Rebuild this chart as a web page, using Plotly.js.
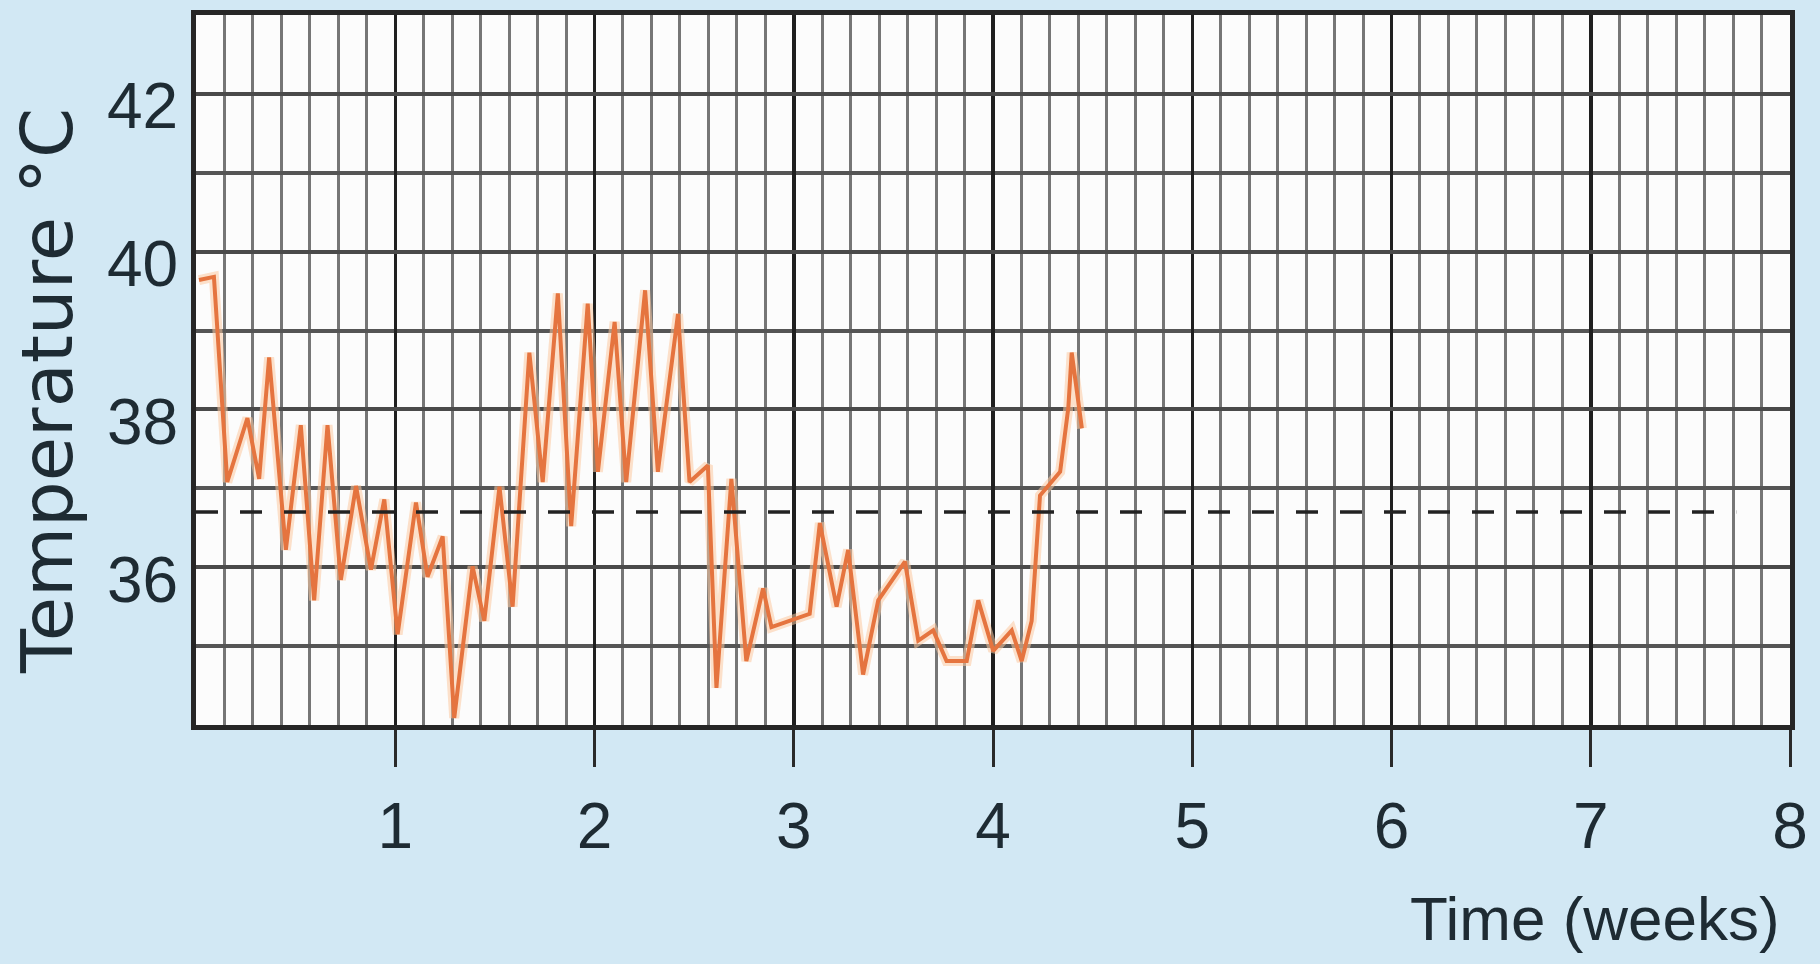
<!DOCTYPE html>
<html>
<head>
<meta charset="utf-8">
<script src="https://cdn.plot.ly/plotly-3.0.1.min.js"></script>
<style>
  html, body { margin: 0; padding: 0; background: #d2e8f4; }
  #chart { width: 1820px; height: 964px; }
</style>
</head>
<body>
<div id="chart"></div>
<script>
// Time in weeks (twice-daily readings) and body temperature in °C
const timeWeeks = [
  0.015, 0.090, 0.157, 0.258, 0.317, 0.367, 0.451, 0.526, 0.593, 0.660,
  0.727, 0.803, 0.878, 0.945, 1.012, 1.104, 1.162, 1.238, 1.296, 1.388,
  1.447, 1.523, 1.589, 1.673, 1.740, 1.816, 1.883, 1.966, 2.017, 2.101,
  2.159, 2.254, 2.318, 2.419, 2.477, 2.569, 2.612, 2.687, 2.762, 2.846,
  2.888, 3.005, 3.080, 3.131, 3.215, 3.273, 3.348, 3.424, 3.558, 3.625,
  3.700, 3.767, 3.868, 3.926, 4.001, 4.094, 4.144, 4.194, 4.228, 4.236,
  4.337, 4.378, 4.395, 4.446
];
const temperature = [
  39.64, 39.68, 37.08, 37.89, 37.12, 38.66, 36.22, 37.80, 35.58, 37.80,
  35.84, 37.03, 35.97, 36.86, 35.15, 36.82, 35.88, 36.39, 34.09, 36.01,
  35.32, 37.02, 35.50, 38.72, 37.08, 39.47, 36.52, 39.34, 37.21, 39.11,
  37.08, 39.51, 37.21, 39.21, 37.08, 37.29, 34.47, 37.12, 34.81, 35.73,
  35.24, 35.35, 35.41, 36.56, 35.50, 36.22, 34.64, 35.58, 36.07, 35.07,
  35.20, 34.81, 34.81, 35.58, 34.94, 35.20, 34.81, 35.32, 36.74, 36.91,
  37.21, 38.02, 38.72, 37.76
];
// Normal temperature reference (dashed line)
const normalX = [0, 7.73];
const normalY = [36.7, 36.7];

// Tick labels
const xTickVals = [1, 2, 3, 4, 5, 6, 7, 8];
const xTickText = ['1', '2', '3', '4', '5', '6', '7', '8'];
const yTickVals = [36, 38, 40, 42];
const yTickText = ['36', '38', '40', '42'];

const xTitle = 'Time (weeks)';
const yTitle = 'Temperature °C';

const tickFont = { family: 'Liberation Sans, Arial, sans-serif', size: 64, color: '#1e2b33' };

const traces = [
  {
    x: timeWeeks, y: temperature, type: 'scatter', mode: 'lines',
    line: { color: 'rgba(252,200,160,0.55)', width: 10 },
    hoverinfo: 'skip', showlegend: false
  },
  {
    x: timeWeeks, y: temperature, type: 'scatter', mode: 'lines',
    line: { color: '#e5743f', width: 4 },
    name: 'Temperature', showlegend: false
  },
  {
    x: normalX, y: normalY, type: 'scatter', mode: 'lines',
    line: { color: '#222222', width: 3.5, dash: '22px,22px' },
    name: 'Normal', showlegend: false, hoverinfo: 'skip'
  }
];

const layout = {
  width: 1820, height: 964,
  paper_bgcolor: '#d2e8f4',
  plot_bgcolor: '#fcfcfc',
  margin: { l: 196, r: 30, t: 15, b: 239 },
  showlegend: false,
  xaxis: {
    range: [0, 8],
    tickmode: 'array', tickvals: xTickVals, ticktext: xTickText,
    ticks: 'outside', ticklen: 37, tickwidth: 3, tickcolor: '#2a2a2a',
    tickfont: tickFont,
    ticklabelstandoff: 4,
    showgrid: true, gridcolor: '#1f1f1f', gridwidth: 3.5,
    minor: { tickmode: 'linear', tick0: 0, dtick: 1 / 7, showgrid: true, gridcolor: '#767676', gridwidth: 3, ticks: '' },
    showline: true, linecolor: '#262626', linewidth: 5, mirror: true,
    zeroline: false, fixedrange: true
  },
  yaxis: {
    range: [34, 43],
    tickmode: 'array', tickvals: yTickVals, ticktext: yTickText,
    ticks: '',
    tickfont: tickFont,
    ticklabelstandoff: 0,
    ticklabelshift: 12,
    showgrid: true, gridcolor: '#4a4a4a', gridwidth: 4,
    minor: { tickmode: 'linear', tick0: 34, dtick: 1, showgrid: true, gridcolor: '#555555', gridwidth: 4, ticks: '' },
    showline: true, linecolor: '#262626', linewidth: 5, mirror: true,
    zeroline: false, fixedrange: true
  },
  annotations: [
    {
      text: xTitle, xref: 'paper', yref: 'paper', x: 0.995, y: -0.272,
      xanchor: 'right', yanchor: 'middle', showarrow: false,
      font: { family: 'Liberation Sans, Arial, sans-serif', size: 62, color: '#1e2b33' }
    },
    {
      text: yTitle, xref: 'paper', yref: 'paper', x: -0.093, y: 0.47,
      xanchor: 'center', yanchor: 'middle', textangle: -90, showarrow: false,
      font: { family: 'DejaVu Sans, sans-serif', size: 72, color: '#1e2b33' }
    }
  ]
};

Plotly.newPlot('chart', traces, layout, { staticPlot: true, displayModeBar: false });
</script>
</body>
</html>
